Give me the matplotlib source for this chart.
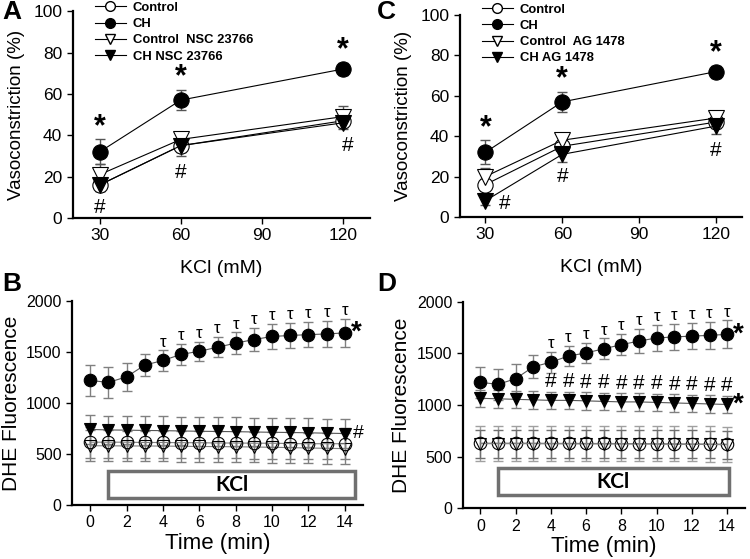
import numpy as np
import matplotlib.pyplot as plt

plt.rcParams['font.family'] = ['Liberation Sans', 'DejaVu Sans']

# ---- top panels: KCl dose response ----
kcl = [30, 60, 120]
ctrl = [16, 35, 47]
ctrl_err = [3, 3, 3]
ch = [32, 57, 72]
ch_err = [6, 5, 3]
# panel A inhibitor
ctrl_nsc = [21, 38, 49]
ctrl_nsc_err = [5, 2, 5]
ch_nsc = [16, 35, 46]
ch_nsc_err = [3, 5, 3]
# panel C inhibitor
ctrl_ag = [20, 38, 49]
ctrl_ag_err = [4, 2, 2]
ch_ag = [8, 31, 45]
ch_ag_err = [2, 4, 4]

# ---- bottom panels: DHE time course ----
t = np.arange(15)
ch_t = [1220, 1200, 1255, 1370, 1415, 1475, 1505, 1545, 1585, 1620, 1650, 1660, 1668, 1675, 1685]
ch_t_err = [150, 150, 140, 110, 100, 100, 95, 100, 105, 115, 125, 125, 125, 130, 135]
# panel B
ctrl_b = [615, 615, 615, 612, 612, 610, 610, 607, 607, 605, 605, 602, 600, 600, 600]
ctrl_b_err = [150, 150, 150, 150, 150, 150, 150, 150, 150, 150, 150, 150, 150, 150, 150]
nsc_ctrl_b = [580, 580, 578, 578, 577, 575, 573, 572, 570, 568, 565, 562, 558, 555, 552]
nsc_ctrl_b_err = [150, 150, 150, 150, 150, 150, 150, 150, 150, 150, 150, 150, 150, 150, 150]
nsc_ch_b = [740, 735, 733, 730, 728, 725, 722, 720, 718, 715, 712, 710, 707, 703, 700]
nsc_ch_b_err = [140, 140, 140, 140, 140, 140, 140, 140, 140, 140, 140, 140, 140, 140, 140]
# panel D
ctrl_d = [630, 630, 630, 630, 628, 628, 627, 627, 626, 626, 625, 624, 623, 622, 620]
ctrl_d_err = [170, 170, 170, 170, 170, 170, 170, 170, 170, 170, 170, 170, 170, 170, 170]
ag_ctrl_d = [625, 625, 625, 625, 623, 623, 622, 622, 621, 621, 620, 619, 618, 617, 615]
ag_ctrl_d_err = [135, 135, 135, 135, 135, 135, 135, 135, 135, 135, 135, 135, 135, 135, 135]
ag_ch_d = [1065, 1060, 1055, 1050, 1045, 1045, 1040, 1035, 1030, 1030, 1025, 1020, 1015, 1010, 1005]
ag_ch_d_err = [85, 85, 85, 85, 85, 85, 85, 85, 85, 85, 85, 85, 85, 85, 85]

tau_times = np.arange(4, 15)
hash_times_d = np.arange(4, 15)

fig = plt.figure(figsize=(7.5, 5.59), dpi=100)
axA = fig.add_axes([0.097, 0.610, 0.396, 0.370])
axC = fig.add_axes([0.613, 0.612, 0.376, 0.361])
axB = fig.add_axes([0.096, 0.0966, 0.388, 0.3654])
axD = fig.add_axes([0.617, 0.091, 0.376, 0.369])


def style(ax, ls):
    for s in ['top', 'right']:
        ax.spines[s].set_visible(False)
    for s in ['left', 'bottom']:
        ax.spines[s].set_linewidth(1.6)
    ax.tick_params(direction='out', length=4, width=1, labelsize=ls)


def series(ax, x, y, e, marker, face, ms, ecol, lcol, lw=0.8):
    ax.errorbar(x, y, yerr=e, fmt='none', ecolor=ecol, elinewidth=1,
                capsize=3.5, capthick=1, zorder=2)
    ax.plot(x, y, color=lcol, lw=lw, marker=marker, ms=ms, mfc=face,
            mec='black', mew=0.8, zorder=3)


# ---- A and C ----
for ax, c_y, c_e, h_y, h_e, lab, anc in [
        (axA, ctrl_nsc, ctrl_nsc_err, ch_nsc, ch_nsc_err, 'NSC 23766', (0.074, 1.046)),
        (axC, ctrl_ag, ctrl_ag_err, ch_ag, ch_ag_err, 'AG 1478', (0.078, 1.058))]:
    style(ax, 12.5)
    series(ax, kcl, ctrl, ctrl_err, 'o', 'white', 11, '#555555', 'black')
    series(ax, kcl, ch, ch_err, 'o', 'black', 11, '#555555', 'black')
    series(ax, kcl, c_y, c_e, 'v', 'white', 11, '#555555', 'black')
    series(ax, kcl, h_y, h_e, 'v', 'black', 11, '#555555', 'black')
    ax.set_xlim(20, 130)
    ax.set_ylim(0, 100)
    ax.set_xticks([30, 60, 90, 120])
    ax.set_yticks([0, 20, 40, 60, 80, 100])
    ax.set_xlabel('KCl (mM)', fontsize=14, labelpad=12)
    ax.set_ylabel('Vasoconstriction (%)', fontsize=13.5, labelpad=6)
    for x, y, e in zip(kcl, ch, ch_err):
        ax.text(x, y + e + 6, '*', ha='center', va='center', fontsize=22, fontweight='bold')
    # legend drawn with proxy handles
    hs = [ax.plot([], [], color='black', lw=0.8, marker=m, ms=7, mfc=f, mec='black')[0]
          for m, f in [('o', 'white'), ('o', 'black'), ('v', 'white'), ('v', 'black')]]
    ax.legend(hs, ['Control', 'CH', 'Control  ' + lab, 'CH ' + lab],
              loc='upper left', bbox_to_anchor=anc, frameon=False,
              prop={'weight': 'bold', 'size': 9.4},
              handlelength=2.4, labelspacing=0.32, handletextpad=0.5,
              borderaxespad=0, borderpad=0)

for x, y, e in zip(kcl, ch_nsc, ch_nsc_err):
    axA.text(x + (2 if x == 120 else 0), y - e - 8, '#', ha='center', va='center', fontsize=15)
hash_c = [(37.5, 6.5), (60, 20), (120, 33)]
for x, y in hash_c:
    axC.text(x, y, '#', ha='center', va='center', fontsize=15)

# ---- B and D ----
for ax in (axB, axD):
    style(ax, 11.5)
    ax.set_xlim(-1, 15)
    ax.set_ylim(0, 2000)
    ax.set_xticks(range(0, 15, 2))
    ax.set_yticks([0, 500, 1000, 1500, 2000])
    ax.set_xlabel('Time (min)', fontsize=16, labelpad=2)
    ax.set_ylabel('DHE Fluorescence', fontsize=15, labelpad=4)
    series(ax, t, ch_t, ch_t_err, 'o', 'black', 9, '#808080', '#555555')
    for x in tau_times:
        ax.text(x, ch_t[x] + ch_t_err[x] + 80, '\u03c4', ha='center', va='center', fontsize=12)
    ax.text(14.65, ch_t[-1], '*', ha='center', va='center', fontsize=20, fontweight='bold')

series(axB, t, nsc_ctrl_b, nsc_ctrl_b_err, 'v', 'none', 9, '#808080', '#808080')
series(axB, t, ctrl_b, ctrl_b_err, 'o', 'none', 9, '#808080', '#808080')
series(axB, t, nsc_ch_b, nsc_ch_b_err, 'v', 'black', 9, '#808080', '#555555')
axB.text(14.75, nsc_ch_b[-1], '#', ha='center', va='center', fontsize=14)

series(axD, t, ctrl_d, ctrl_d_err, 'o', 'none', 9, '#a0a0a0', '#808080')
series(axD, t, ag_ctrl_d, ag_ctrl_d_err, 'v', 'none', 9, '#707070', '#808080')
series(axD, t, ag_ch_d, ag_ch_d_err, 'v', 'black', 9, '#808080', '#555555')
for x in hash_times_d:
    axD.text(x, ag_ch_d[x] + ag_ch_d_err[x] + 95, '#', ha='center', va='center', fontsize=15)
axD.text(14.65, ag_ch_d[-1], '*', ha='center', va='center', fontsize=20, fontweight='bold')

# KCl application boxes
for ax, y0, y1, x1 in [(axB, 65, 336, 14.55), (axD, 126, 388, 14.1)]:
    ax.add_patch(plt.Rectangle((1, y0), x1 - 1, y1 - y0, fill=False,
                               edgecolor='#707070', lw=2.5, zorder=1))
    ax.text((1 + x1) / 2, (y0 + y1) / 2, 'KCl', ha='center', va='center',
            fontsize=15, fontweight='bold', family=['Lato', 'DejaVu Sans'])

# panel letters
for x, y, s in [(0.003, 0.978, 'A'), (0.503, 0.978, 'C'),
                (0.003, 0.492, 'B'), (0.503, 0.492, 'D')]:
    fig.text(x, y, s, fontsize=19, fontweight='bold', va='center')

fig.savefig('out.png', dpi=100)
